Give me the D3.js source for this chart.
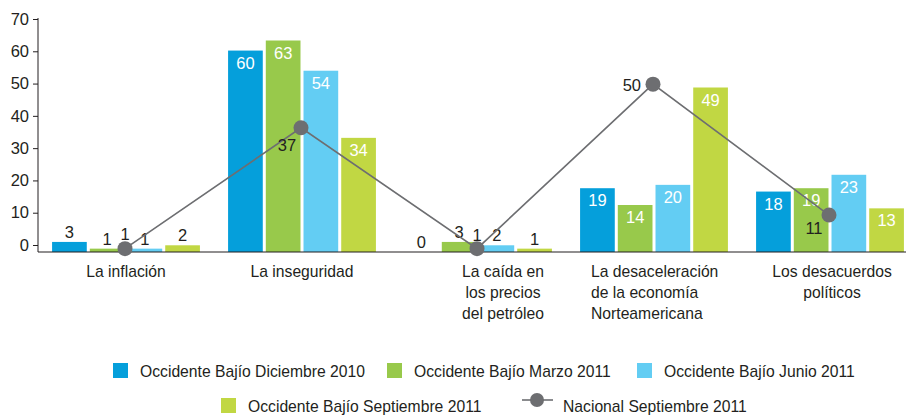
<!DOCTYPE html>
<html>
<head>
<meta charset="utf-8">
<script src="https://cdn.jsdelivr.net/npm/d3@7"></script>
<style>
  body { margin: 0; background: #fff; }
  text { font-family: "Liberation Sans", Arial, sans-serif; fill: #231f20; }
</style>
</head>
<body>
<div id="chart"></div>
<script>
// Chart data
const categoryLines = [
    ["La inflación"],
    ["La inseguridad"],
    ["La caída en", "los precios", "del petróleo"],
    ["La desaceleración", "de la economía", "Norteamericana"],
    ["Los desacuerdos", "políticos"]
];
const seriesNames = [
    "Occidente Bajío Diciembre 2010",
    "Occidente Bajío Marzo 2011",
    "Occidente Bajío Junio 2011",
    "Occidente Bajío Septiembre 2011"
];
const dic2010 = [3, 60, 0, 19, 18];
const mar2011 = [1, 63, 3, 14, 19];
const jun2011 = [1, 54, 2, 20, 23];
const sep2011 = [2, 34, 1, 49, 13];
const nacionalName = "Nacional Septiembre 2011";
const nacional = [1, 37, 1, 50, 11];
const yTicks = [0, 10, 20, 30, 40, 50, 60, 70];

const seriesValues = [dic2010, mar2011, jun2011, sep2011];
const colors = ["#059fdb", "#98c94b", "#63cdf3", "#c1d743"];
const lineColor = "#6d6e71";

const width = 906;
const height = 417;

const svg = d3.select("#chart").append("svg")
    .attr("width", width)
    .attr("height", height);

// Scales
const x0 = d3.scaleBand()
    .domain(d3.range(categoryLines.length))
    .range([38, 918])
    .paddingInner(0.16)
    .paddingOuter(0.08);

const x1 = d3.scaleBand()
    .domain(d3.range(seriesValues.length))
    .range([0, x0.bandwidth()])
    .paddingInner(0.08);

const y = d3.scaleLinear().domain([0, 70]).range([252, 17]);
// the tick labels in the original sit on a slightly tighter scale than the bars
const yAxisScale = d3.scaleLinear().domain([0, 70]).range([245, 19]);

// Y axis
const yAxis = svg.append("g")
    .attr("transform", "translate(38,0)")
    .call(d3.axisLeft(yAxisScale).tickValues(yTicks).tickSize(5).tickPadding(4));
yAxis.select(".domain").remove();
yAxis.selectAll(".tick line").attr("stroke", "#231f20");
yAxis.selectAll(".tick text")
    .attr("font-size", 16.5)
    .attr("font-family", null)
    .attr("fill", null);

svg.append("line")
    .attr("x1", 38).attr("x2", 38)
    .attr("y1", 18).attr("y2", y(0))
    .attr("stroke", "#231f20");

// Bars
const groups = svg.selectAll(".grp")
    .data(categoryLines)
    .enter().append("g")
    .attr("class", "grp")
    .attr("transform", (d, i) => `translate(${x0(i)},0)`);

groups.each(function (c, ci) {
    const g = d3.select(this);
    seriesValues.forEach((vals, si) => {
        const v = vals[ci];
        g.append("rect")
            .attr("x", x1(si))
            .attr("y", y(v))
            .attr("width", x1.bandwidth())
            .attr("height", y(0) - y(v))
            .attr("fill", colors[si]);
        const inside = v >= 10;
        g.append("text")
            .attr("x", x1(si) + x1.bandwidth() / 2)
            .attr("y", inside ? y(v) + 18 : y(v) - 4)
            .attr("text-anchor", "middle")
            .attr("font-size", 16.5)
            .style("fill", inside ? "#fff" : "#231f20")
            .text(v);
    });
});

// X axis line
svg.append("line")
    .attr("x1", 38).attr("x2", width)
    .attr("y1", y(0)).attr("y2", y(0))
    .attr("stroke", "#231f20")
    .attr("stroke-width", 1.2);

// Category labels
const labelAlign = [
    { dx: 0, anchor: "middle" },
    { dx: 0, anchor: "middle" },
    { dx: 25, anchor: "middle" },
    { dx: -63, anchor: "start" },
    { dx: 2, anchor: "middle" }
];
categoryLines.forEach((lines, i) => {
    const cx = x0(i) + x0.bandwidth() / 2 + labelAlign[i].dx;
    const t = svg.append("text")
        .attr("text-anchor", labelAlign[i].anchor)
        .attr("font-size", 15.7);
    lines.forEach((ln, k) => {
        t.append("tspan")
            .attr("x", cx)
            .attr("y", 277 + k * 21)
            .text(ln);
    });
});

// Nacional line
const cxOf = i => x0(i) + x0.bandwidth() / 2 - 1;
const line = d3.line()
    .x((d, i) => cxOf(i))
    .y(d => y(d));

svg.append("path")
    .datum(nacional)
    .attr("d", line)
    .attr("fill", "none")
    .attr("stroke", lineColor)
    .attr("stroke-width", 1.6);

svg.selectAll(".dot")
    .data(nacional)
    .enter().append("circle")
    .attr("class", "dot")
    .attr("cx", (d, i) => cxOf(i))
    .attr("cy", d => y(d))
    .attr("r", 7.5)
    .attr("fill", lineColor);

const dotLabelPos = [
    { dx: 0, dy: -9, anchor: "middle" },
    { dx: -14, dy: 23, anchor: "middle" },
    { dx: 0, dy: -8, anchor: "middle" },
    { dx: -12, dy: 7, anchor: "end" },
    { dx: -15, dy: 19, anchor: "middle" }
];
svg.selectAll(".dotlabel")
    .data(nacional)
    .enter().append("text")
    .attr("class", "dotlabel")
    .attr("x", (d, i) => cxOf(i) + dotLabelPos[i].dx)
    .attr("y", (d, i) => y(d) + dotLabelPos[i].dy)
    .attr("text-anchor", (d, i) => dotLabelPos[i].anchor)
    .attr("font-size", 16.5)
    .text(d => d);

// Legend
const legendPos = [
    { x: 113, y: 363 },
    { x: 387, y: 363 },
    { x: 637, y: 363 },
    { x: 221, y: 398 }
];
seriesNames.forEach((name, i) => {
    const p = legendPos[i];
    svg.append("rect")
        .attr("x", p.x).attr("y", p.y)
        .attr("width", 15).attr("height", 15)
        .attr("fill", colors[i]);
    svg.append("text")
        .attr("x", p.x + 27)
        .attr("y", p.y + 14)
        .attr("font-size", 15.7)
        .text(name);
});

svg.append("line")
    .attr("x1", 522).attr("x2", 553)
    .attr("y1", 400).attr("y2", 400)
    .attr("stroke", lineColor)
    .attr("stroke-width", 1.6);
svg.append("circle")
    .attr("cx", 537).attr("cy", 400)
    .attr("r", 7)
    .attr("fill", lineColor);
svg.append("text")
    .attr("x", 563)
    .attr("y", 412)
    .attr("font-size", 15.7)
    .text(nacionalName);
</script>
</body>
</html>
